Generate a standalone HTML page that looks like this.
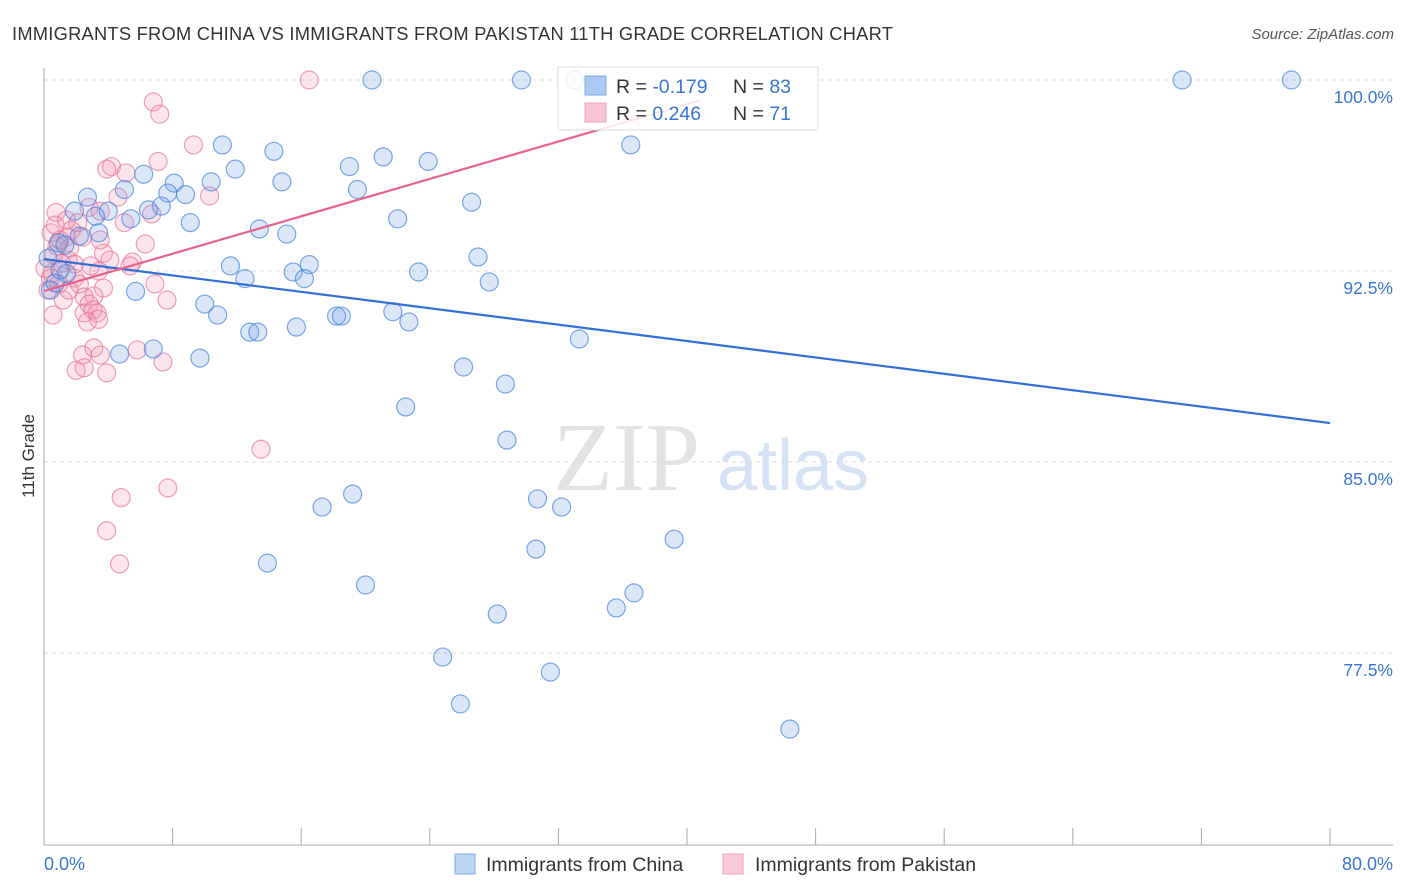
<!DOCTYPE html>
<html><head><meta charset="utf-8">
<style>
body{margin:0;background:#fff;font-family:"Liberation Sans",sans-serif;}
svg{display:block}
</style></head>
<body>
<svg id="chart" width="1406" height="892" xmlns="http://www.w3.org/2000/svg">
<text x="12" y="40" font-size="18.3" fill="#333" letter-spacing="0.25">IMMIGRANTS FROM CHINA VS IMMIGRANTS FROM PAKISTAN 11TH GRADE CORRELATION CHART</text>
<text x="1394" y="39" font-size="15" fill="#555" font-style="italic" text-anchor="end">Source: ZipAtlas.com</text>
<g>
<text x="553" y="490" font-size="98" font-family="Liberation Serif,serif" fill="#e3e3e3">ZIP</text>
<text x="717" y="490" font-size="72" fill="#d6e3f5">atlas</text>
</g>
<g id="grid"></g>
<g id="axes"></g>
<g id="pts"></g>
<g id="lines"></g>
<text x="34" y="456" font-size="17" fill="#333" text-anchor="middle" transform="rotate(-90 34 456)">11th Grade</text>
<g>
<rect x="558" y="67" width="260" height="63" fill="#fff" fill-opacity="0.85" stroke="#ddd"/>
<rect x="585" y="76" width="21" height="19" fill="#a9c8f2" stroke="#7fa8e0"/>
<rect x="585" y="103" width="21" height="19" fill="#f8c3d3" stroke="#eea2ba"/>
<text x="616" y="93" font-size="19.5" fill="#333">R = <tspan fill="#3a74d4">-0.179</tspan></text>
<text x="733" y="93" font-size="19.5" fill="#333">N = <tspan fill="#3a74d4">83</tspan></text>
<text x="616" y="120" font-size="19.5" fill="#333">R = <tspan fill="#3a74d4"> 0.246</tspan></text>
<text x="733" y="120" font-size="19.5" fill="#333">N = <tspan fill="#3a74d4"> 71</tspan></text>
</g>
<g>
<rect x="455" y="854" width="20" height="20" fill="#bcd4f4" stroke="#7fa8e0"/>
<text x="486" y="871" font-size="19.5" fill="#333">Immigrants from China</text>
<rect x="723" y="854" width="20" height="20" fill="#f9cbd9" stroke="#eea2ba"/>
<text x="755" y="871" font-size="19.5" fill="#333">Immigrants from Pakistan</text>
</g>
</svg>
<script>
const yTicks=[100,92.5,85,77.5];
const yTickLabels=["100.0%","92.5%","85.0%","77.5%"];
const xTicks=[0,8,16,24,32,40,48,56,64,72,80];
const xTickLabels=["0.0%","80.0%"];
const chinaX=[20.4,29.7,33.0,70.8,77.6,11.1,36.5,14.3,21.1,23.9,19.0,11.9,6.2,14.8,8.1,10.4,5.0,19.5,7.7,8.8,2.7,7.3,26.6,1.9,4.0,6.5,3.2,5.4,9.1,22.0,13.4,15.1,3.4,0.9,27.0,11.6,16.5,15.5,23.3,12.5,16.2,27.7,1.4,5.7,10.0,10.8,18.2,18.5,21.7,22.7,15.7,12.8,13.3,33.3,4.7,6.8,9.7,26.1,28.7,22.5,28.8,19.2,30.7,17.3,32.2,39.2,30.6,13.9,20.0,36.7,35.6,28.2,24.8,31.5,25.9,46.4,0.4,0.7,1.0,0.25,1.3,2.2];
const chinaY=[100,100,100,100,100,97.45,97.45,97.2,96.98,96.8,96.6,96.5,96.3,96.0,95.95,96.0,95.7,95.7,95.56,95.5,95.4,95.05,95.2,94.85,94.85,94.9,94.65,94.55,94.4,94.55,94.15,93.95,94.0,93.6,93.05,92.7,92.75,92.46,92.46,92.2,92.2,92.07,92.4,91.7,91.2,90.77,90.73,90.73,90.9,90.5,90.3,90.1,90.1,89.83,89.24,89.44,89.08,88.73,88.06,87.16,85.86,83.74,83.55,83.23,83.23,81.97,81.58,81.03,80.17,79.86,79.27,79.03,77.34,76.75,75.5,74.51,91.75,92.03,92.54,93.0,93.52,93.87];
const pakX=[16.5,6.8,7.2,9.3,7.1,4.2,3.9,5.1,10.3,4.6,2.8,0.75,3.5,6.7,5.0,0.44,1.4,2.4,6.3,0.8,1.6,3.7,1.5,1.1,5.5,5.35,3.4,0.5,1.9,0.9,6.9,2.2,3.7,7.65,2.5,3.1,2.8,2.5,3.3,3.05,0.56,2.7,3.4,3.1,2.4,3.5,5.8,7.4,2.0,2.5,3.9,13.5,4.8,7.7,3.9,4.7,0.4,0.6,1.0,1.7,0.25,1.2,1.9,2.9,0.7,4.1,1.4,0.06,2.1,3.5,1.55];
const pakY=[100,99.14,98.66,97.45,96.8,96.6,96.5,96.35,95.45,95.4,95.0,94.8,94.85,94.74,94.4,94.0,93.83,93.83,93.56,93.48,93.4,93.2,92.93,92.8,92.85,92.7,92.5,92.42,92.22,91.99,91.99,91.99,91.83,91.36,91.48,91.52,91.2,90.85,90.85,90.97,90.77,90.5,90.6,89.48,89.2,89.2,89.4,88.93,88.6,88.7,88.5,85.5,83.6,83.98,82.3,81.0,92.22,93.13,93.72,94.1,91.75,91.36,92.77,92.7,94.3,92.93,94.5,92.6,94.4,93.72,91.75];
const chinaTrend=[[0,92.97],[80,86.53]];
const pakTrend=[[0,91.71],[40.8,99.2]];

const NS="http://www.w3.org/2000/svg";
const X=v=>44+v/80*1286;
const Y=v=>80+(100-v)/7.5*191;
function mk(tag,attrs,parent){const e=document.createElementNS(NS,tag);for(const k in attrs)e.setAttribute(k,attrs[k]);parent.appendChild(e);return e;}
const grid=document.getElementById('grid'),axes=document.getElementById('axes'),pts=document.getElementById('pts'),lines=document.getElementById('lines');
yTicks.forEach((t,i)=>{
 const l=mk('line',{x1:44,x2:1393,y1:Y(t),y2:Y(t),stroke:'#ddd','stroke-dasharray':'4,4'},grid);
 
 
 const tx=mk('text',{x:1393,y:Y(t)+23,'font-size':17.5,fill:'#3a74d4','text-anchor':'end'},axes);
 tx.textContent=yTickLabels[i];
 
 
});
let a=mk('line',{x1:44,x2:44,y1:68,y2:845,stroke:'#aaa'},axes);


a=mk('line',{x1:44,x2:1393,y1:845,y2:845,stroke:'#aaa'},axes);


xTicks.forEach(t=>{
 const l=mk('line',{x1:X(t),x2:X(t),y1:828,y2:845,stroke:'#aaa'},axes);
 
 
});
let xl=mk('text',{x:44,y:870,'font-size':18,fill:'#3a74d4'},axes);xl.textContent=xTickLabels[0];


xl=mk('text',{x:1393,y:870,'font-size':18,fill:'#3a74d4','text-anchor':'end'},axes);xl.textContent=xTickLabels[1];


pakX.forEach((v,i)=>{
 const c=mk('circle',{cx:X(v),cy:Y(pakY[i]),r:9,fill:'rgba(244,150,180,0.25)',stroke:'rgba(230,120,155,0.7)','stroke-width':1.2},pts);
 
 
});
chinaX.forEach((v,i)=>{
 const c=mk('circle',{cx:X(v),cy:Y(chinaY[i]),r:9,fill:'rgba(110,160,230,0.25)',stroke:'rgba(70,130,220,0.7)','stroke-width':1.2},pts);
 
 
});
let tl=mk('line',{x1:X(chinaTrend[0][0]),y1:Y(chinaTrend[0][1]),x2:X(chinaTrend[1][0]),y2:Y(chinaTrend[1][1]),stroke:'#2f6fd6','stroke-width':2.2},lines);


tl=mk('line',{x1:X(pakTrend[0][0]),y1:Y(pakTrend[0][1]),x2:X(pakTrend[1][0]),y2:Y(pakTrend[1][1]),stroke:'#e8628e','stroke-width':2.2},lines);


</script>
</body></html>
